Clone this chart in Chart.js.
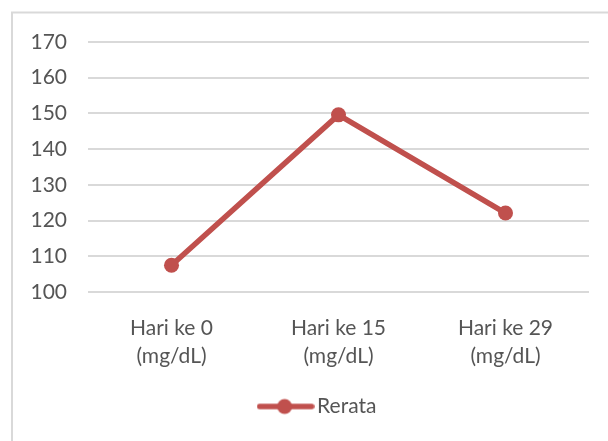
<!DOCTYPE html>
<html>
<head>
<meta charset="utf-8">
<script src="https://cdn.jsdelivr.net/npm/chart.js@4/dist/chart.umd.min.js"></script>
<style>
  html, body { margin: 0; padding: 0; background: #ffffff; }
  #wrap { position: relative; width: 608px; height: 441px; }
</style>
</head>
<body>
<div id="wrap"><canvas id="chart" width="608" height="441"></canvas></div>
<script>
// Mean blood glucose per measurement day
const categories = [
  ['Hari ke 0', '(mg/dL)'],
  ['Hari ke 15', '(mg/dL)'],
  ['Hari ke 29', '(mg/dL)']
];
const seriesName = 'Rerata';
const rerata = [107.5, 149.6, 122.1];
const yMin = 100;
const yMax = 170;
const yStep = 10;

const RED = '#C0504D';
const GRID = '#D9D9D9';
const TEXT = '#555555';
const FONT = 'Lato, "Open Sans", sans-serif';

// Legend symbol: short line with a round marker on it
function legendSymbol() {
  const c = document.createElement('canvas');
  c.width = 58; c.height = 18;
  const g = c.getContext('2d');
  g.strokeStyle = RED;
  g.lineWidth = 5.5;
  g.lineCap = 'round';
  g.beginPath();
  g.moveTo(3, 9); g.lineTo(55, 9);
  g.stroke();
  g.fillStyle = RED;
  g.beginPath();
  g.arc(28, 9, 7.5, 0, Math.PI * 2);
  g.fill();
  return c;
}
const symbol = legendSymbol();

// Light frame along the left and top edges
const framePlugin = {
  id: 'frame',
  beforeDraw(chart) {
    const ctx = chart.ctx;
    ctx.save();
    ctx.fillStyle = '#ffffff';
    ctx.fillRect(0, 0, chart.width, chart.height);
    ctx.strokeStyle = GRID;
    ctx.lineWidth = 2;
    ctx.beginPath();
    ctx.moveTo(12, chart.height);
    ctx.lineTo(12, 12.5);
    ctx.lineTo(chart.width, 12.5);
    ctx.stroke();
    ctx.restore();
  }
};

// Center the legend under the plot area rather than the whole canvas
const legendShift = {
  id: 'legendShift',
  afterLayout(chart) {
    const lg = chart.legend;
    if (!lg) return;
    const dx = (chart.chartArea.left + chart.chartArea.right) / 2 - (lg.left + lg.right) / 2 - 18;
    lg.left += dx;
    lg.right += dx;
  }
};

new Chart(document.getElementById('chart'), {
  type: 'line',
  data: {
    labels: categories,
    datasets: [{
      label: seriesName,
      data: rerata,
      borderColor: RED,
      backgroundColor: RED,
      borderWidth: 5.5,
      pointRadius: 7.5,
      pointHoverRadius: 7.5,
      pointBorderWidth: 0,
      pointBackgroundColor: RED,
      tension: 0,
      fill: false
    }]
  },
  options: {
    responsive: false,
    animation: false,
    devicePixelRatio: 1,
    layout: { padding: { left: 0, right: 19, top: 42, bottom: 14 } },
    plugins: {
      tooltip: { enabled: false },
      legend: {
        position: 'bottom',
        labels: {
          usePointStyle: true,
          pointStyleWidth: 42,
          color: TEXT,
          font: { family: FONT, size: 21 },
          padding: 10,
          generateLabels(chart) {
            return chart.data.datasets.map((ds, i) => ({
              text: ds.label,
              pointStyle: symbol,
              fillStyle: RED,
              strokeStyle: RED,
              lineWidth: 0,
              fontColor: TEXT,
              hidden: false,
              datasetIndex: i
            }));
          }
        }
      }
    },
    scales: {
      x: {
        offset: true,
        grid: { display: false },
        border: { display: false },
        ticks: {
          color: TEXT,
          font: { family: FONT, size: 21, lineHeight: 1.33 },
          padding: 14,
          maxRotation: 0
        },
        afterFit(scale) { scale.height = 94; }
      },
      y: {
        min: yMin,
        max: yMax,
        grid: { color: GRID, lineWidth: 2, drawTicks: false },
        border: { display: false },
        ticks: {
          stepSize: yStep,
          color: TEXT,
          font: { family: FONT, size: 21 },
          padding: 21
        },
        afterFit(scale) { scale.width = 88; }
      }
    }
  },
  plugins: [framePlugin, legendShift]
});
</script>
</body>
</html>
